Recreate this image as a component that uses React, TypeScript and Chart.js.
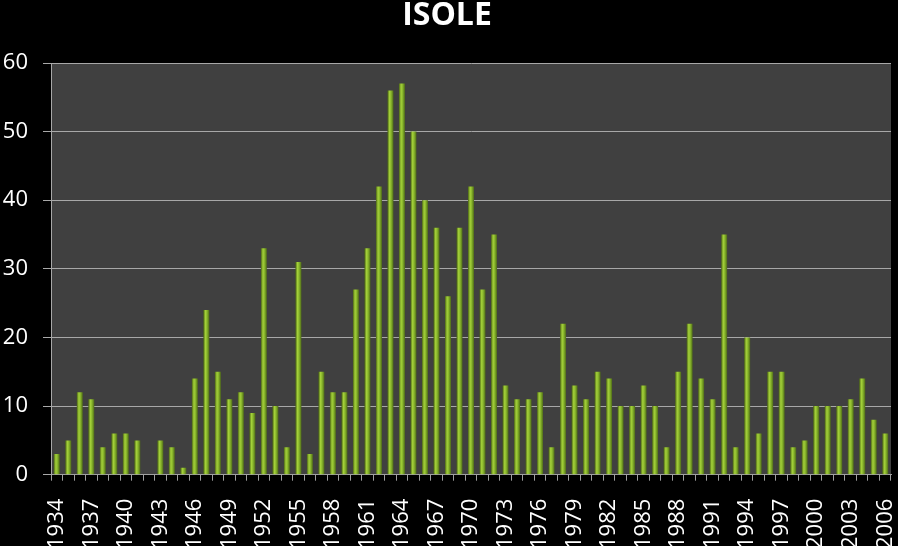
import React, { useEffect, useRef } from "react";
import { Chart, registerables } from "chart.js";

Chart.register(...registerables);

const years: string[] = [];
for (let y = 1934; y <= 2006; y++) years.push(String(y));

const values: number[] = [
  3, 5, 12, 11, 4, 6, 6, 5, 0, 5, 4, 1, 14, 24, 15, 11, 12, 9, 33, 10,
  4, 31, 3, 15, 12, 12, 27, 33, 42, 56, 57, 50, 40, 36, 26, 36, 42, 27, 35, 13,
  11, 11, 12, 4, 22, 13, 11, 15, 14, 10, 10, 13, 10, 4, 15, 22, 14, 11, 35, 4,
  20, 6, 15, 15, 4, 5, 10, 10, 10, 11, 14, 8, 6,
];

const titleText = "ISOLE";
const yMin = 0;
const yMax = 60;
const yStep = 10;

const plotBg = {
  id: "plotBg",
  beforeDraw(chart: any) {
    const { ctx, chartArea } = chart;
    ctx.save();
    ctx.fillStyle = "#404040";
    ctx.fillRect(chartArea.left, chartArea.top, chartArea.right - chartArea.left, chartArea.bottom - chartArea.top);
    ctx.restore();
  },
};

function barFill(c: any) {
  const chart = c.chart;
  const xs = chart.scales && chart.scales.x;
  if (!xs || c.dataIndex === undefined) return "#86ae34";
  const x = xs.getPixelForValue(c.dataIndex);
  if (!Number.isFinite(x)) return "#86ae34";
  const g = chart.ctx.createLinearGradient(x - 3, 0, x + 3, 0);
  g.addColorStop(0, "#4a6414");
  g.addColorStop(0.35, "#a4d03a");
  g.addColorStop(0.6, "#8ab82c");
  g.addColorStop(1, "#4e6a18");
  return g;
}

export default function App() {
  const ref = useRef<HTMLCanvasElement | null>(null);
  useEffect(() => {
    if (!ref.current) return;
    const chart = new Chart(ref.current, {
      type: "bar",
      data: {
        labels: years,
        datasets: [
          {
            data: values,
            backgroundColor: barFill as any,
            borderWidth: 0,
            barPercentage: 0.52,
            categoryPercentage: 1,
          },
        ],
      },
      options: {
        responsive: false,
        animation: false,
        devicePixelRatio: 1,
        layout: { padding: { left: 3, right: 7, top: 0, bottom: 0 } },
        plugins: {
          legend: { display: false },
          tooltip: { enabled: false },
          title: {
            display: true,
            text: titleText,
            color: "#ffffff",
            font: { family: "'Open Sans'", size: 32, weight: "bold", lineHeight: 1.0 },
            padding: { top: 0, bottom: 31 },
          },
        },
        scales: {
          x: {
            afterFit: (scale: any) => {
              scale.paddingLeft = 0;
              scale.paddingRight = 0;
            },
            grid: {
              display: true,
              drawOnChartArea: false,
              drawTicks: true,
              tickLength: 6,
              color: "#a0a0a0",
              offset: true,
            },
            border: { display: true, color: "#a0a0a0" },
            ticks: {
              autoSkip: false,
              maxRotation: 90,
              minRotation: 90,
              color: "#ffffff",
              padding: 18,
              font: { family: "'Open Sans'", size: 22 },
              callback: (_v: any, i: number) => (i % 3 === 0 ? years[i] : ""),
            },
          },
          y: {
            min: yMin,
            max: yMax,
            afterFit: (scale: any) => {
              scale.width = 48;
            },
            grid: {
              color: "#a8a8a8",
              tickLength: 8,
              drawTicks: true,
            },
            border: { display: true, color: "#a8a8a8" },
            ticks: {
              stepSize: yStep,
              color: "#ffffff",
              padding: 15,
              font: { family: "'Open Sans'", size: 22 },
            },
          },
        },
      },
      plugins: [plotBg],
    });
    return () => chart.destroy();
  }, []);
  return (
    <div style={{ position: "fixed", left: 0, top: 0, width: 898, height: 546, overflow: "hidden", background: "#000" }}>
      <canvas ref={ref} width={898} height={567} style={{ display: "block", position: "absolute", left: 0, top: 0 }} />
    </div>
  );
}
